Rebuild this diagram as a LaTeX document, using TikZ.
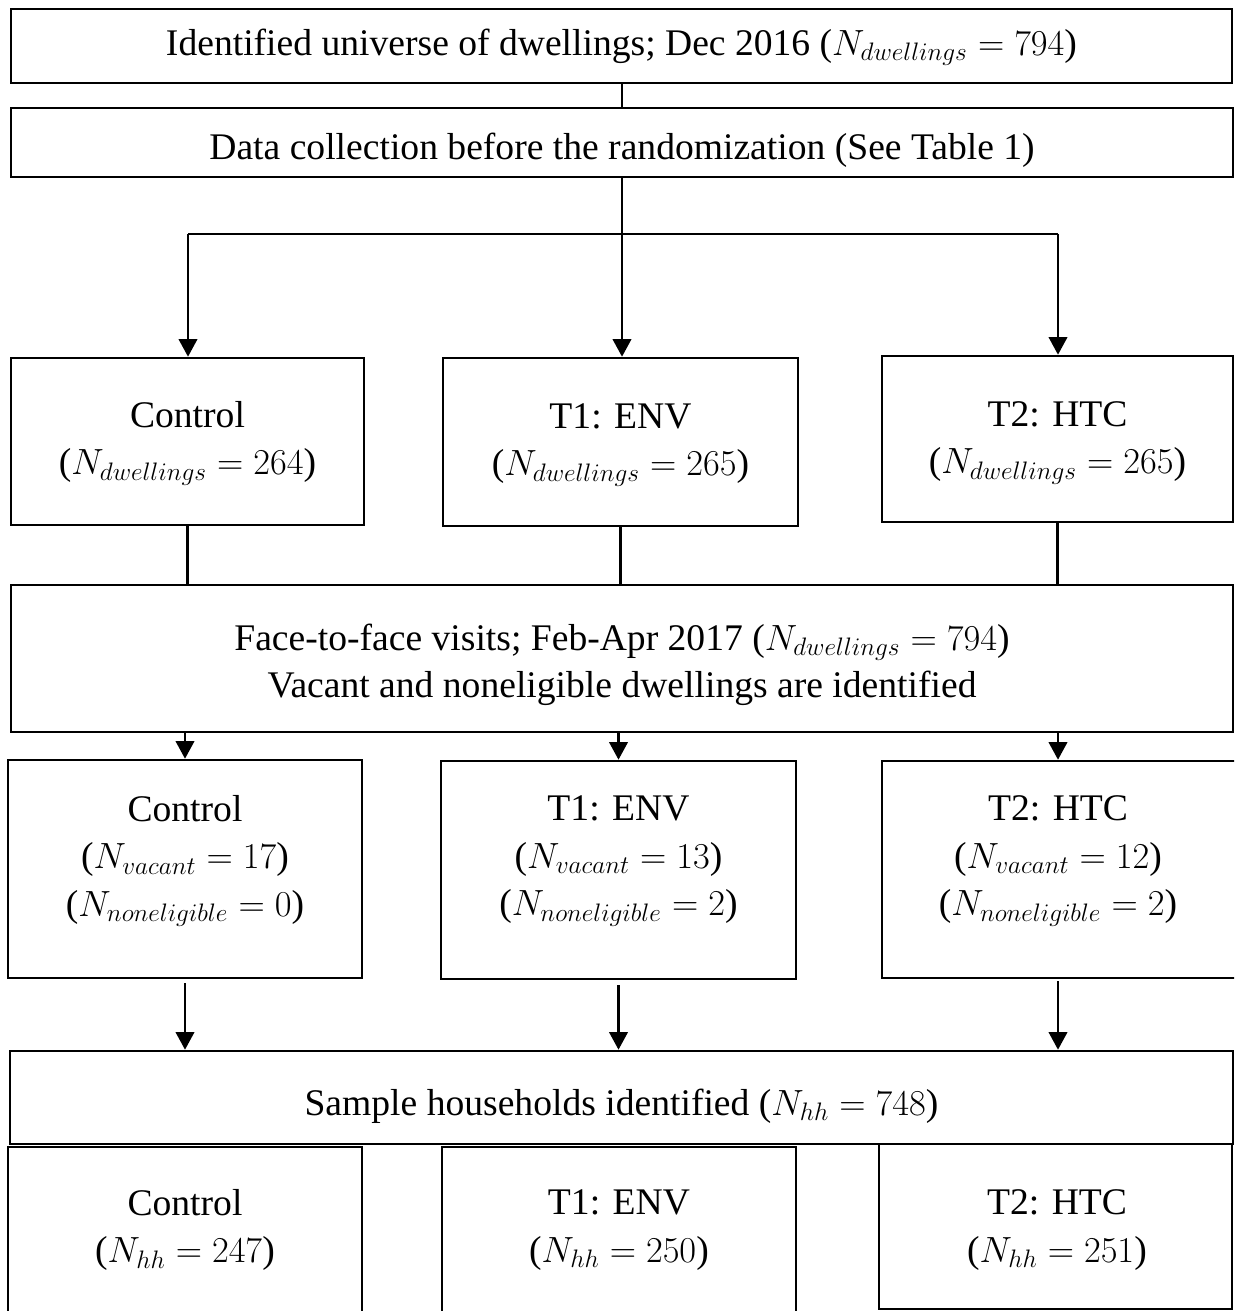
\documentclass[tikz,border=0pt]{standalone}
\usepackage{fontspec}
\setmainfont{Liberation Serif}
\usetikzlibrary{arrows.meta}
\begin{document}
\begin{tikzpicture}[x=0.02cm,y=-0.02cm,
  box/.style={draw, line width=1.5pt, inner sep=0pt},
  txt/.style={align=center, inner sep=0pt, font=\fontsize{21.4}{27}\selectfont},
  conn/.style={line width=1.3pt},
  arr/.style={conn, -{Triangle[length=10pt,width=10.5pt]}}]
\useasboundingbox (0,0) rectangle (1234,1311);
\clip (0,0) rectangle (1234,1311);
% boxes
\node[box, minimum width=24.42cm, minimum height=1.48cm] (top) at (621.5,46) {};
\node[box, minimum width=24.44cm, minimum height=1.38cm] (data) at (622,142.5) {};
\node[box, minimum width=7.06cm, minimum height=3.34cm] (c1) at (187.5,441.5) {};
\node[box, minimum width=7.10cm, minimum height=3.36cm] (t1) at (620.5,442) {};
\node[box, minimum width=7.02cm, minimum height=3.32cm] (t2) at (1057.5,439) {};
\node[box, minimum width=24.44cm, minimum height=2.94cm] (face) at (622,658.5) {};
\node[box, minimum width=7.08cm, minimum height=4.36cm] (c2) at (185,869) {};
\node[box, minimum width=7.10cm, minimum height=4.36cm] (t1b) at (618.5,870) {};
\node[box, minimum width=7.12cm, minimum height=4.34cm] (t2b) at (1060,869.5) {};
\node[box, minimum width=24.46cm, minimum height=1.86cm] (sample) at (621.5,1097.5) {};
\node[box, minimum width=7.08cm, minimum height=3.46cm] (c3) at (185,1233.5) {};
\node[box, minimum width=7.08cm, minimum height=3.46cm] (t1c) at (619,1233.5) {};
\node[box, minimum width=7.06cm, minimum height=3.30cm] (t2c) at (1055.5,1226.5) {};
% texts
\node[txt] (topt) at (621.5,47) {Identified universe of dwellings; Dec 2016 ($N_{dwellings}=794$)};
\node[txt] (datat) at (622,150) {Data collection before the randomization (See Table 1)};
\node[txt] (c1t) at (187.5,443) {Control\\($N_{dwellings}=264$)};
\node[txt] (t1t) at (620.5,445) {T1: ENV\\($N_{dwellings}=265$)};
\node[txt] (t2t) at (1057.5,443) {T2: HTC\\($N_{dwellings}=265$)};
\node[txt] (facet) at (622,665) {Face-to-face visits; Feb-Apr 2017 ($N_{dwellings}=794$)\\Vacant and noneligible dwellings are identified};
\node[txt] (c2t) at (185,861) {Control\\($N_{vacant}=17$)\\($N_{noneligible}=0$)};
\node[txt] (t1bt) at (618.5,861) {T1: ENV\\($N_{vacant}=13$)\\($N_{noneligible}=2$)};
\node[txt] (t2bt) at (1058,861) {T2: HTC\\($N_{vacant}=12$)\\($N_{noneligible}=2$)};
\node[txt] (samplet) at (621.5,1106) {Sample households identified ($N_{hh}=748$)};
\node[txt] (c3t) at (185,1230) {Control\\($N_{hh}=247$)};
\node[txt] (t1ct) at (619,1230) {T1: ENV\\($N_{hh}=250$)};
\node[txt] (t2ct) at (1057,1230) {T2: HTC\\($N_{hh}=251$)};
% connectors
\coordinate (jl) at (188,234);
\coordinate (jm) at (622,234);
\coordinate (jr) at (1058,234);
\draw[conn] (top.south -| data.north) -- (data.north);
\draw[conn] (jl) -- (jr);
\draw[arr] (data.south) -- (data.south |- t1.north);
\draw[arr] (jl) -- (jl |- c1.north);
\draw[arr] (jr) -- (jr |- t2.north);
\draw[conn] (c1.south) -- (c1.south |- face.north);
\draw[conn] (t1.south) -- (t1.south |- face.north);
\draw[conn] (t2.south) -- (t2.south |- face.north);
\draw[arr] (c2.north |- face.south) -- (c2.north);
\draw[arr] (t1b.north |- face.south) -- (t1b.north);
\draw[arr] (jr |- face.south) -- (jr |- t2b.north);
\draw[arr] ([yshift=-0.08cm]c2.south) -- (c2.south |- sample.north);
\draw[arr] ([yshift=-0.1cm]t1b.south) -- (t1b.south |- sample.north);
\draw[arr] ([yshift=-0.04cm]t2b.south -| jr) -- (jr |- sample.north);
\end{tikzpicture}
\end{document}
